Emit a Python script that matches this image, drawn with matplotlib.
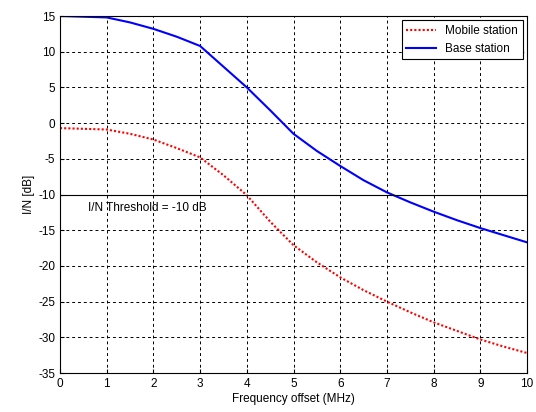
import matplotlib
matplotlib.use("Agg")
import matplotlib.pyplot as plt

plt.rcParams['font.family'] = ['Liberation Sans', 'DejaVu Sans']
plt.rcParams['axes.unicode_minus'] = False

freq = [0, 0.5, 1, 1.5, 2, 2.5, 3, 3.5, 4, 4.5, 5, 5.5, 6, 6.5, 7, 7.5, 8, 8.5, 9, 9.5, 10]
mobile = [-0.7, -0.8, -0.9, -1.5, -2.3, -3.5, -4.8, -7.3, -10.1, -13.8, -17.1, -19.5,
          -21.6, -23.4, -25.0, -26.5, -27.9, -29.1, -30.3, -31.3, -32.2]
base = [15.0, 14.9, 14.8, 14.1, 13.2, 12.1, 10.8, 7.9, 5.0, 1.8, -1.5, -3.9,
        -6.0, -8.0, -9.7, -11.1, -12.4, -13.6, -14.7, -15.7, -16.7]
threshold = -10
xticks = list(range(0, 11))
yticks = list(range(-35, 16, 5))

fig = plt.figure(figsize=(5.36, 4.12), dpi=100)
ax = fig.add_axes([60/536, 1 - 373/412, 467/536, 357/412])
ax.plot(freq, mobile, color='red', linestyle=(0, (1, 1)), linewidth=1.5, label='Mobile station')
ax.plot(freq, base, color='blue', linestyle='-', linewidth=1.5, label='Base station')
ax.axhline(threshold, color='black', linewidth=0.8)
ax.text(0.6, -11.9, 'I/N Threshold = -10 dB', fontsize=8.5, va='center', ha='left')
ax.set_xlim(0, 10)
ax.set_ylim(-35, 15)
ax.set_xticks(xticks)
ax.set_yticks(yticks)
ax.grid(True, color='black', linestyle=(0, (3, 3)), linewidth=0.7)
ax.tick_params(direction='in', labelsize=8.5, length=3)
ax.set_xlabel('Frequency offset (MHz)', fontsize=8.5, labelpad=2)
ax.set_ylabel('I/N [dB]', fontsize=8.5, labelpad=2)
for s in ax.spines.values():
    s.set_linewidth(0.8)
leg = ax.legend(loc='upper right', fontsize=8.5, fancybox=False, framealpha=1,
                edgecolor='black', borderaxespad=0.35, handlelength=2.5)
leg.get_frame().set_linewidth(0.8)
fig.savefig('out.png', dpi=100)
